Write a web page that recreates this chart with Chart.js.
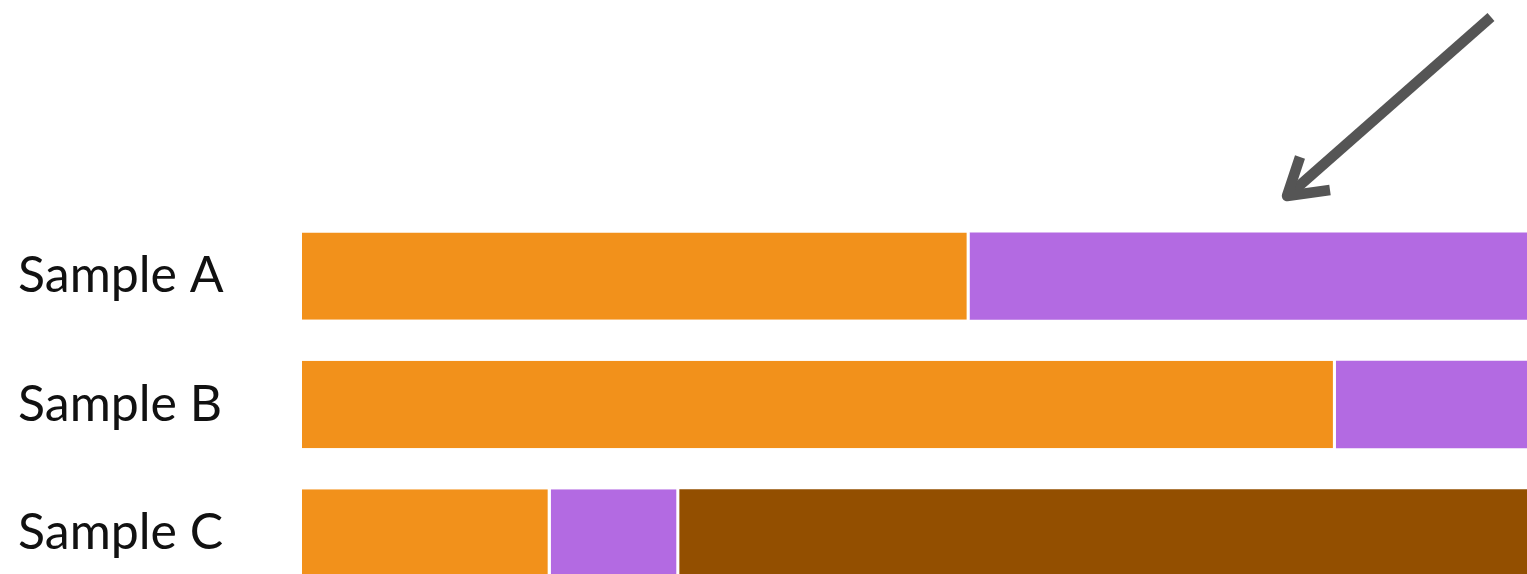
<!DOCTYPE html>
<html>
<head>
<meta charset="utf-8">
<script src="https://cdn.jsdelivr.net/npm/chart.js@4.4.0/dist/chart.umd.min.js"></script>
<style>
    html, body { margin: 0; padding: 0; background: #fff; overflow: hidden; }
    canvas { display: block; }
</style>
</head>
<body>
<canvas id="chart" width="1527" height="597"></canvas>
<script>
// data (share of each bar, in percent)
const categories = ['Sample A', 'Sample B', 'Sample C'];
const seriesNames = ['Part 1', 'Part 2', 'Part 3'];
const part1 = [54.5, 84.4, 20.3];
const part2 = [45.5, 15.6, 10.5];
const part3 = [0, 0, 69.2];

const COLORS = ['#f2911b', '#b36ae2', '#934f00'];
const allSeries = [part1, part2, part3];

// white separator between segments, none after the last segment of a row
function borderFor(dsIndex) {
    return (ctx) => {
        let i = ctx.dataIndex;
        let hasNext = allSeries.slice(dsIndex + 1).some(s => s[i] > 0);
        return { top: 0, bottom: 0, left: 0, right: hasNext ? 3 : 0 };
    };
}

const datasets = allSeries.map((values, k) => ({
    label: seriesNames[k],
    data: values,
    backgroundColor: COLORS[k],
    borderColor: '#ffffff',
    borderWidth: borderFor(k),
    borderSkipped: false,
    barPercentage: 1,
    categoryPercentage: 0.68
}));

// the grey arrow in the upper right corner
const arrowPlugin = {
    id: 'arrow',
    afterDraw(chart) {
        const c = chart.ctx;
        c.save();
        c.strokeStyle = '#555555';
        c.lineWidth = 10.5;
        c.lineCap = 'butt';
        c.lineJoin = 'round';
        c.beginPath();
        c.moveTo(1491, 17);
        c.lineTo(1291, 193);
        c.stroke();
        c.beginPath();
        c.moveTo(1300, 157);
        c.lineTo(1287, 196);
        c.lineTo(1330, 190);
        c.stroke();
        c.restore();
    }
};

new Chart(document.getElementById('chart'), {
    type: 'bar',
    data: { labels: categories, datasets: datasets },
    plugins: [arrowPlugin],
    options: {
        indexAxis: 'y',
        responsive: false,
        animation: false,
        layout: { padding: { left: 18, right: 0, top: 212, bottom: 0 } },
        plugins: {
            legend: { display: false },
            tooltip: { enabled: false }
        },
        scales: {
            x: {
                stacked: true,
                display: false,
                min: 0,
                max: 100
            },
            y: {
                stacked: true,
                grid: { display: false },
                border: { display: false },
                ticks: {
                    crossAlign: 'far',
                    color: '#111111',
                    padding: 0,
                    font: { family: 'Lato', size: 50 }
                },
                afterFit(scale) {
                    scale.width = 284;
                    // labels sit inside the bands, no extra room needed
                    scale.paddingTop = 0;
                    scale.paddingBottom = 0;
                }
            }
        }
    }
});
</script>
</body>
</html>
